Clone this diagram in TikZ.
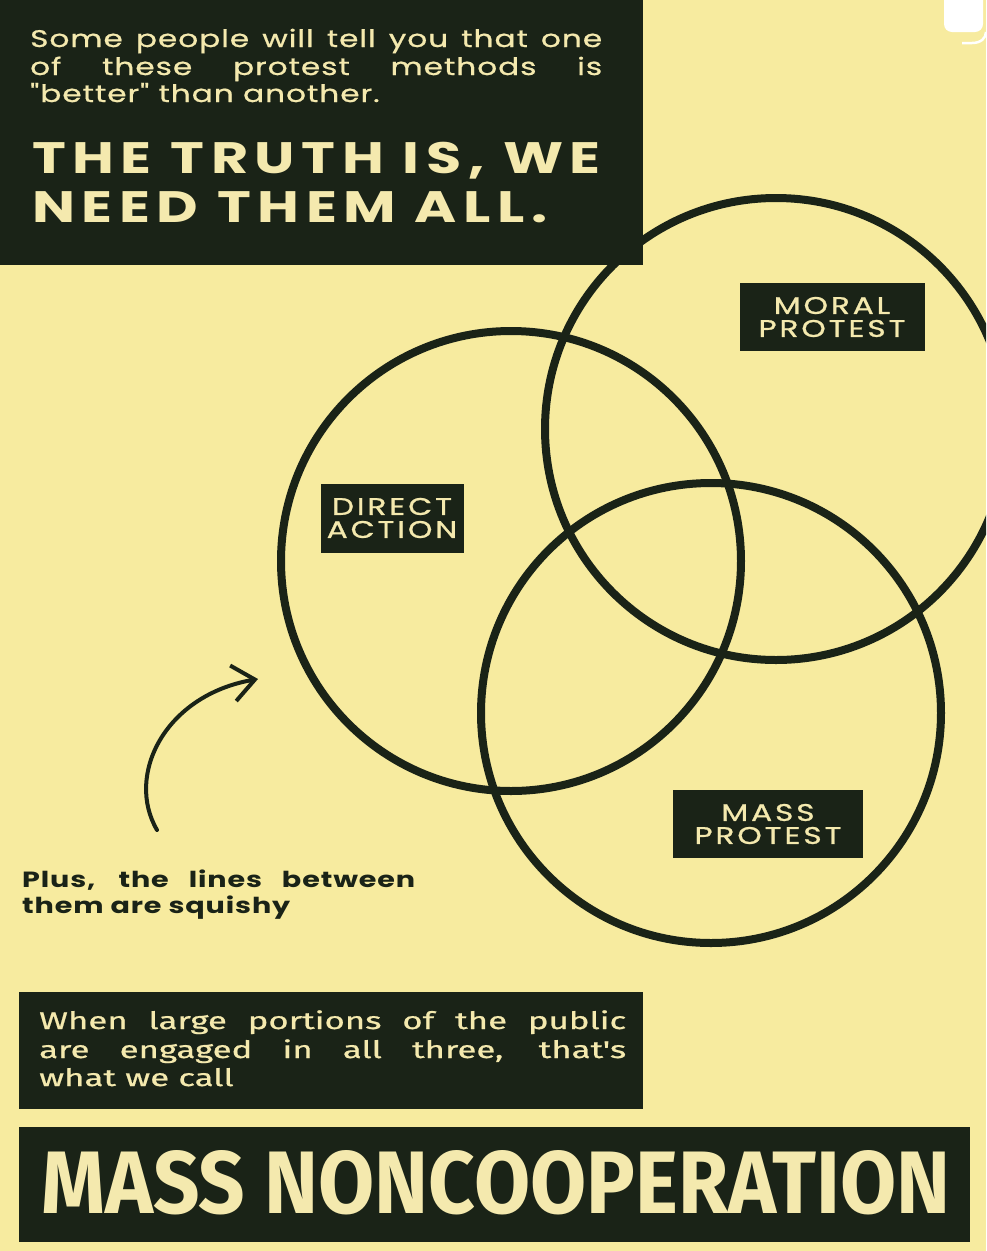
\documentclass[tikz,border=0pt]{standalone}
\usepackage{fontspec}
\usepackage{graphicx}
\setmainfont{Poppins}
\newfontfamily\introfont[FakeStretch=1.3,LetterSpace=4,FakeBold=0.8]{Poppins}
\newfontfamily\widefont[FakeStretch=1.3,LetterSpace=4]{Poppins}
\newfontfamily\headfont[FakeStretch=1.3,LetterSpace=15]{Poppins}
\newfontfamily\tagfont[FakeStretch=1.3,LetterSpace=12,FakeBold=1]{Poppins}
\newfontfamily\bodyfont[FakeStretch=1.45,FakeBold=0.8]{Fira Sans}
\newfontfamily\titlefont{Fira Sans}
\usetikzlibrary{arrows.meta}
\definecolor{paper}{HTML}{F7EB9F}
\definecolor{ink}{HTML}{1A2317}
\definecolor{cream}{HTML}{F4E9AE}

\begin{document}
\begin{tikzpicture}[x=1pt,y=-1pt,
  ring/.style={draw=ink,line width=8pt},
  panel/.style={fill=ink},
  tag/.style={fill=ink,text=cream,inner sep=0pt,align=center,
    font=\tagfont\fontsize{24}{23}\selectfont},
  line/.style={anchor=base west,inner sep=0pt}]
  \useasboundingbox (0,0) rectangle (986,1251);
  \clip (0,0) rectangle (986,1251);
  \fill[paper] (0,0) rectangle (986,1251);

  % the three circles
  \draw[ring] (776,429) circle (231);
  \draw[ring] (511,561) circle (230);
  \draw[ring] (711,713) circle (230);

  % top panel
  \fill[panel] (0,0) rectangle (643,265);
  \node[line,text=cream,font=\introfont\fontsize{24}{27}\selectfont] (intro1) at (30,47)
    {\makebox[572pt][s]{Some people will tell you that one}};
  \node[line,text=cream,font=\introfont\fontsize{24}{27}\selectfont] (intro2) at (30,75)
    {\makebox[572pt][s]{of these protest methods is}};
  \node[line,text=cream,font=\introfont\fontsize{24}{27}\selectfont] (intro3) at (30,102)
    {"better" than another.};
  \node[line,text=cream,font=\headfont\bfseries\fontsize{44}{49}\selectfont] (truth1) at (32,173)
    {THE TRUTH IS, WE};
  \node[line,text=cream,font=\headfont\bfseries\fontsize{44}{49}\selectfont] (truth2) at (32,222)
    {NEED THEM ALL.};

  % circle labels
  \node[tag,minimum width=185pt,minimum height=68pt] (moral) at (832,317) {MORAL\\PROTEST};
  \node[tag,minimum width=143pt,minimum height=69pt] (direct) at (392,518) {DIRECT\\ACTION};
  \node[tag,minimum width=190pt,minimum height=68pt] (mass) at (768,824) {MASS\\PROTEST};

  % squishy note
  \node[line,text=ink,font=\widefont\bfseries\fontsize{22}{26}\selectfont] (plus1) at (22,887)
    {\makebox[393pt][s]{Plus, the lines between}};
  \node[line,text=ink,font=\widefont\bfseries\fontsize{22}{26}\selectfont] (plus2) at (22,913)
    {them are squishy};
  \coordinate (tail) at (157,830);
  \coordinate (tip) at (258,679);
  \draw[ink,line width=4pt,line cap=round,-{Straight Barb[length=22pt,width=36pt]}]
    (tail) .. controls (125,775) and (165,695) .. (tip);

  % bottom panels
  \fill[panel] (19,992) rectangle (643,1109);
  \node[line,text=cream,font=\bodyfont\fontsize{24}{29}\selectfont] (when1) at (39,1029)
    {\makebox[587pt][s]{When large portions of the public}};
  \node[line,text=cream,font=\bodyfont\fontsize{24}{29}\selectfont] (when2) at (39,1058)
    {\makebox[587pt][s]{are engaged in all three, that's}};
  \node[line,text=cream,font=\bodyfont\fontsize{24}{29}\selectfont] (when3) at (39,1086)
    {what we call};
  \fill[panel] (19,1127) rectangle (970,1242);
  \node[line,text=cream] (title) at (41,1213)
    {\resizebox{909pt}{63pt}{\titlefont\bfseries MASS NONCOOPERATION}};

  % corner icon
  \fill[white,rounded corners=8pt] (944,-12) rectangle (983,32);
  \draw[white,line width=2.5pt] (962,43) -- (972,43) .. controls (981,43) and (986,38) .. (986,32);
\end{tikzpicture}
\end{document}
